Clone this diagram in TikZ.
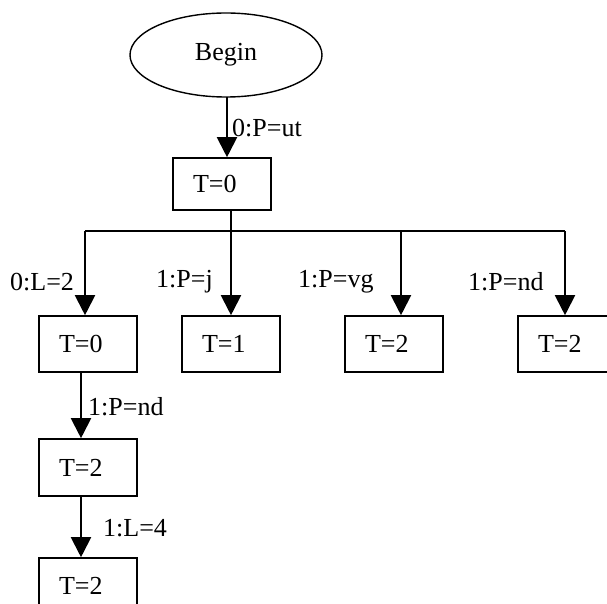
\documentclass[tikz,border=0pt]{standalone}
\usepackage{fontspec}
\setmainfont{Liberation Serif}
\usetikzlibrary{arrows.meta,shapes.geometric}
\begin{document}
\begin{tikzpicture}[x=1pt,y=-1pt,
  txt/.style={font=\fontsize{26}{30}\selectfont},
  box/.style={txt, draw, line width=1.6pt, text width=58pt, inner xsep=20pt, inner ysep=0pt, align=left, minimum height=56pt},
  lbl/.style={txt, inner sep=0pt, anchor=west},
  conn/.style={line width=2pt},
  arr/.style={conn, -{Triangle[length=20pt,width=20pt]}}]
\clip (0,0) rectangle (607,604);
% nodes
\node[txt, draw, ellipse, line width=1.4pt, minimum width=192pt, minimum height=84pt, inner sep=0pt] (begin) at (226,55) {Begin};
\node[box, minimum height=52pt] (t0) at (222,184) {T=0};
\node[box] (a) at (88,344) {T=0};
\node[box] (b) at (231,344) {T=1};
\node[box] (c) at (394,344) {T=2};
\node[box] (d) at (567,344) {T=2};
\node[box, minimum height=57pt] (e) at (88,467.5) {T=2};
\node[box] (f) at (88,586) {T=2};
% junction coordinates
\coordinate (jl) at (85,231);
\coordinate (jm) at (231,231);
\coordinate (jc) at (401,231);
\coordinate (jr) at (565,231);
\coordinate (top) at (227,97);
% connectors
\draw[arr] (top) -- (top |- t0.north);
\draw[conn] (t0.south -| jm) -- (jm);
\draw[conn] (jl) -- (jr);
\draw[arr] (jl) -- (jl |- a.north);
\draw[arr] (jm) -- (jm |- b.north);
\draw[arr] (jc) -- (jc |- c.north);
\draw[arr] (jr) -- (jr |- d.north);
\draw[arr] ([xshift=-7pt]a.south) -- ([xshift=-7pt]e.north);
\draw[arr] ([xshift=-7pt]e.south) -- ([xshift=-7pt]f.north);
% labels
\node[lbl] (l0) at (232,128) {0:P=ut};
\node[lbl] (l1) at (10,282) {0:L=2};
\node[lbl] (l2) at (156,282) {1:P=j};
\node[lbl] (l3) at (298,282) {1:P=vg};
\node[lbl] (l4) at (468,282) {1:P=nd};
\node[lbl] (l5) at (88,407) {1:P=nd};
\node[lbl] (l6) at (103,528) {1:L=4};
\end{tikzpicture}
\end{document}
